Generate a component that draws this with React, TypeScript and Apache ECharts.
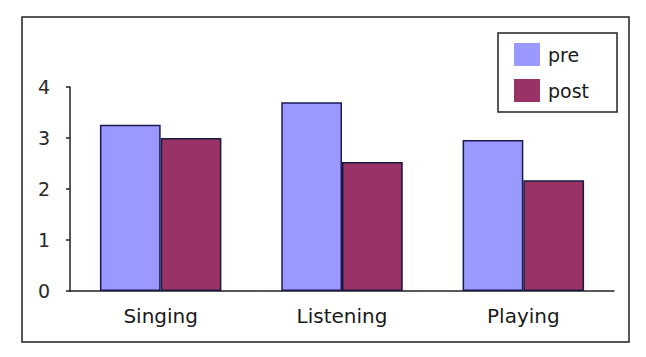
import React, { useEffect, useRef } from "react";
import * as echarts from "echarts";

const categories = ["Singing", "Listening", "Playing"];
const preValues = [3.26, 3.7, 2.96];
const postValues = [3.0, 2.53, 2.17];
const seriesNames = ["pre", "post"];

export default function App() {
  const ref = useRef<HTMLDivElement>(null);
  useEffect(() => {
    if (!ref.current) return;
    const chart = echarts.init(ref.current, null, { renderer: "svg" });
    const font = "DejaVu Sans";
    chart.setOption({
      animation: false,
      backgroundColor: "#ffffff",
      graphic: [
        {
          type: "rect",
          shape: { x: 22, y: 17, width: 607, height: 325 },
          style: { fill: "none", stroke: "#222222", lineWidth: 1.5 },
          z: 0,
        },
      ],
      grid: { left: 70, right: 32, top: 87, bottom: 66, containLabel: false },
      legend: {
        orient: "vertical",
        left: 498,
        top: 33,
        data: seriesNames,
        icon: "rect",
        itemWidth: 26,
        itemHeight: 23,
        itemGap: 13,
        padding: [10, 28, 10, 16],
        borderColor: "#222222",
        borderWidth: 1.5,
        itemStyle: { borderWidth: 0 },
        textStyle: { fontFamily: font, fontSize: 19, color: "#1a1a1a", padding: [0, 0, 0, 3] },
      },
      xAxis: {
        type: "category",
        data: categories,
        axisLine: { lineStyle: { color: "#222222", width: 1.5 } },
        axisTick: { show: false },
        axisLabel: { fontFamily: font, fontSize: 20, color: "#1a1a1a", margin: 15 },
      },
      yAxis: {
        type: "value",
        min: 0,
        max: 4,
        interval: 1,
        splitLine: { show: false },
        axisLine: { show: true, lineStyle: { color: "#222222", width: 1.5 } },
        axisTick: { show: true, length: 4, lineStyle: { color: "#222222", width: 1.5 } },
        axisLabel: { fontFamily: font, fontSize: 19, color: "#2a2a2a", margin: 20 },
      },
      series: [
        {
          name: seriesNames[0],
          type: "bar",
          data: preValues,
          barGap: "0%",
          barCategoryGap: "33%",
          itemStyle: { color: "#9999FF", borderColor: "#1a1a50", borderWidth: 1.5 },
        },
        {
          name: seriesNames[1],
          type: "bar",
          data: postValues,
          barGap: "0%",
          barCategoryGap: "33%",
          itemStyle: { color: "#993366", borderColor: "#1a1a40", borderWidth: 1.5 },
        },
      ],
    });
    return () => chart.dispose();
  }, []);
  return (
    <div
      ref={ref}
      style={{ position: "fixed", left: 0, top: 0, width: 646, height: 357 }}
    />
  );
}
